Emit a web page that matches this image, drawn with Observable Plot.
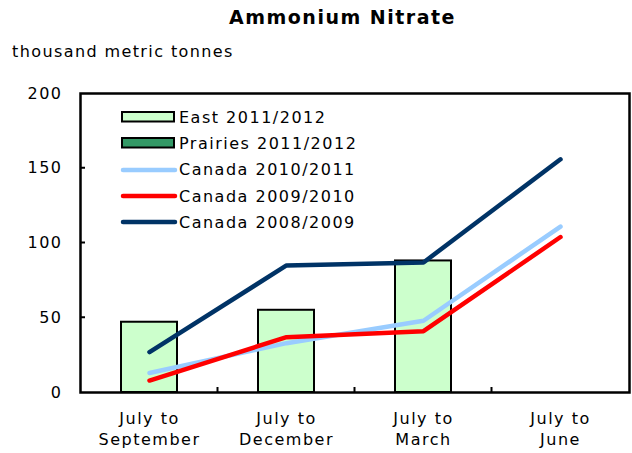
<!DOCTYPE html>
<html><head><meta charset="utf-8">
<script src="https://cdn.jsdelivr.net/npm/d3@7"></script>
<script src="https://cdn.jsdelivr.net/npm/@observablehq/plot@0.6"></script>
<style>
body{margin:0;background:#fff;font-family:"DejaVu Sans",sans-serif;color:#000;}
#wrap{position:relative;width:632px;height:453px;overflow:hidden;}
#head{height:70px;position:relative;}
.title{position:absolute;left:229px;top:6px;font-weight:bold;font-size:19px;letter-spacing:1.5px;white-space:nowrap;}
.sub{position:absolute;left:12px;top:42px;font-size:16px;letter-spacing:1.4px;white-space:nowrap;}
#legend{position:absolute;left:120px;top:104px;font-size:16px;letter-spacing:1.5px;}
.row{height:26.3px;display:flex;align-items:center;white-space:nowrap;}
.row svg{margin-right:1px;}
svg text{letter-spacing:1.5px;}
</style></head><body>
<div id="wrap"><div id="head"><div class="title">Ammonium Nitrate</div><div class="sub">thousand metric tonnes</div></div><div id="chart"></div><div id="legend"></div></div>
<script>
const categories = ["July to\nSeptember", "July to\nDecember", "July to\nMarch", "July to\nJune"];
const seriesNames = ["East 2011/2012", "Prairies 2011/2012", "Canada 2010/2011", "Canada 2009/2010", "Canada 2008/2009"];
const seriesColors = ["#ccffcc", "#339966", "#99ccff", "#ff0000", "#003366"];
const east = [47, 55, 88, null];
const prairies = [0, 0, 0, null];
const canada1011 = [13, 33, 48, 111];
const canada0910 = [8, 37, 41, 104];
const canada0809 = [27, 85, 87, 156];
const yTicks = [0, 50, 100, 150, 200];

const barRows = [];
[[seriesNames[0], east], [seriesNames[1], prairies]].forEach(([s, vals]) =>
  vals.forEach((v, i) => { if (v) barRows.push({cat: categories[i], series: s, value: v}); }));
const lineRows = [];
[[seriesNames[2], canada1011], [seriesNames[3], canada0910], [seriesNames[4], canada0809]].forEach(([s, vals]) =>
  vals.forEach((v, i) => { if (v != null) lineRows.push({cat: categories[i], series: s, value: v}); }));

const innerTicks = (index, scales, values, dims) => {
  const g = d3.create("svg:g").attr("stroke", "black").attr("stroke-width", 2);
  const {marginLeft, marginBottom, height} = dims;
  for (const t of yTicks.slice(1, -1)) {
    const y = scales.y(t);
    g.append("line").attr("x1", marginLeft).attr("x2", marginLeft + 5).attr("y1", y).attr("y2", y);
  }
  let bw = scales.x.bandwidth;
  if (typeof bw === "function") bw = bw();
  bw = bw || 0;
  for (let i = 1; i < categories.length; i++) {
    const x = (scales.x(categories[i - 1]) + bw + scales.x(categories[i])) / 2;
    g.append("line").attr("x1", x).attr("x2", x).attr("y1", height - marginBottom).attr("y2", height - marginBottom - 5);
  }
  return g.node();
};

const chart = Plot.plot({
  width: 632, height: 383,
  marginTop: 23, marginLeft: 80, marginRight: 3, marginBottom: 61,
  style: {fontFamily: "DejaVu Sans", fontSize: "16px", color: "#000", background: "#fff"},
  x: {domain: categories, paddingInner: 0.592, paddingOuter: 0.296, label: null},
  y: {domain: [0, 200], label: null},
  color: {domain: seriesNames, range: seriesColors},
  marks: [
    Plot.barY(barRows, Plot.stackY({x: "cat", y: "value", fill: "series", order: seriesNames, stroke: "black", strokeWidth: 2})),
    Plot.line(lineRows, {x: "cat", y: "value", z: "series", stroke: "series", strokeWidth: 4.5, strokeLinecap: "round", strokeLinejoin: "miter"}),
    Plot.frame({stroke: "black", strokeWidth: 2.5}),
    innerTicks,
    Plot.axisY({ticks: yTicks, tickSize: 0, tickPadding: 18, fontSize: 16, label: null}),
    Plot.axisX({tickSize: 0, tickPadding: 16, fontSize: 16, lineHeight: 1.35, label: null})
  ]
});
document.getElementById("chart").appendChild(chart);

const legend = document.getElementById("legend");
seriesNames.forEach((name, i) => {
  const row = document.createElement("div");
  row.className = "row";
  const isBar = i < 2;
  row.innerHTML = isBar
    ? `<svg width="58" height="14"><rect x="2" y="2" width="52" height="9.5" fill="${seriesColors[i]}" stroke="black" stroke-width="2"/></svg>`
    : `<svg width="58" height="14"><line x1="3" x2="55" y1="7" y2="7" stroke="${seriesColors[i]}" stroke-width="4.5" stroke-linecap="round"/></svg>`;
  row.appendChild(document.createTextNode(name));
  legend.appendChild(row);
});
</script>
</body></html>
